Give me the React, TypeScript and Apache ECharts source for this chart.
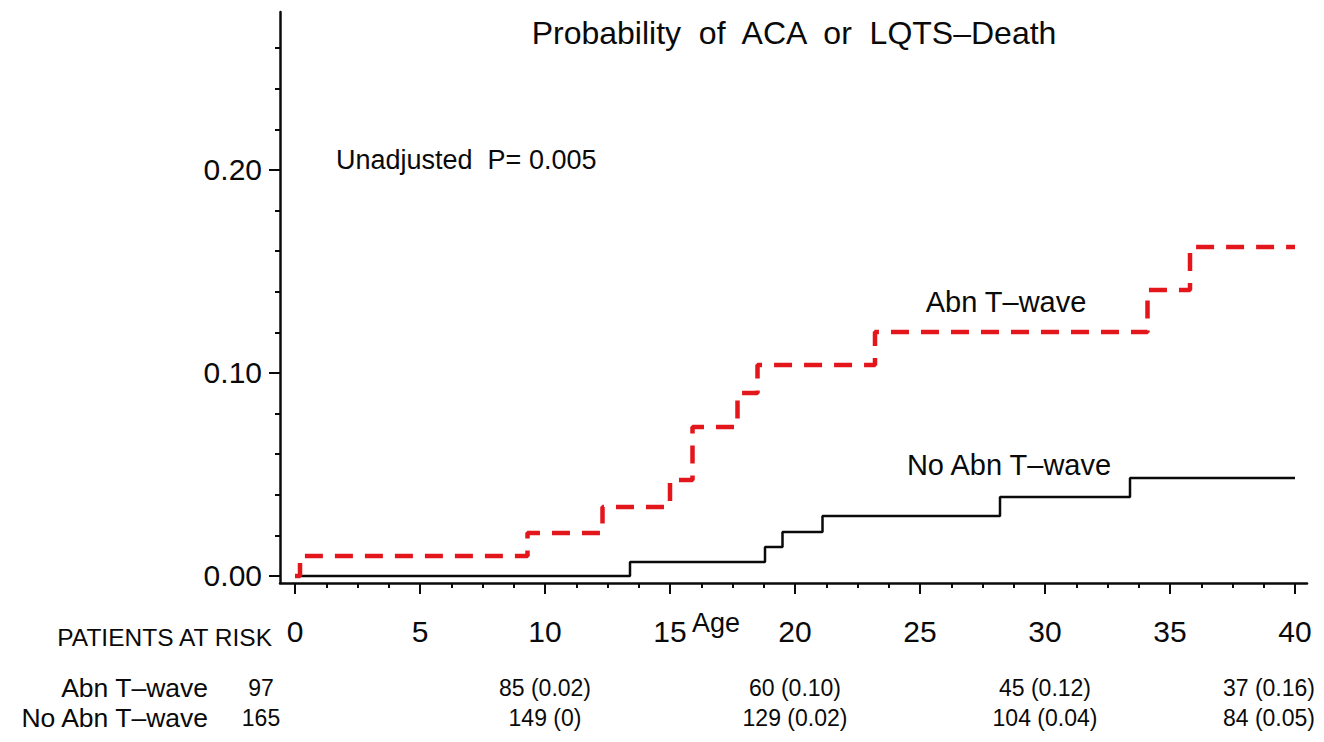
import React, { useEffect, useRef } from "react";
import * as echarts from "echarts";

// Kaplan-Meier style cumulative probability (step points: age, cumulative probability)
const abnAges = [0, 0.2, 9.3, 12.3, 15.0, 15.9, 17.7, 18.5, 23.2, 34.1, 35.8, 40];
const abnProb = [0, 0.0099, 0.0212, 0.034, 0.0473, 0.0734, 0.0901, 0.1039, 0.1202, 0.1409, 0.162, 0.162];
const noAbnAges = [0, 13.4, 18.8, 19.5, 21.1, 28.2, 33.4, 40];
const noAbnProb = [0, 0.0069, 0.0143, 0.0217, 0.0296, 0.0389, 0.0483, 0.0483];

const xTickLabels = [0, 5, 10, 15, 20, 25, 30, 35, 40];
const yTickLabels = [0, 0.1, 0.2];

const riskAges = [0, 10, 20, 30, 40];
const abnAtRisk = [97, 85, 60, 45, 37];
const abnCum = [null, 0.02, 0.1, 0.12, 0.16];
const noAbnAtRisk = [165, 149, 129, 104, 84];
const noAbnCum = [null, 0, 0.02, 0.04, 0.05];

const titleText = "Probability  of  ACA  or  LQTS–Death";
const pText = "Unadjusted  P= 0.005";
const abnLabel = "Abn T–wave";
const noAbnLabel = "No Abn T–wave";
const riskHeader = "PATIENTS AT RISK";
const xName = "Age";

const FONT = "'Liberation Sans', Arial, sans-serif";
const INK = "#0a0a0a";

function range(start: number, end: number, step: number) {
  const out: number[] = [];
  const n = Math.round((end - start) / step);
  for (let i = 0; i <= n; i++) out.push(+(start + i * step).toFixed(6));
  return out;
}

const xMinorTicks = range(0, 40, 1.25);
const yMinorTicks = range(0, 0.26, 0.02);

function fmtCum(v: number | null) {
  if (v === null) return "";
  return v === 0 ? " (0)" : " (" + v.toFixed(2) + ")";
}

export default function App() {
  const ref = useRef<HTMLDivElement>(null);
  useEffect(() => {
    if (!ref.current) return;
    const chart = echarts.init(ref.current, undefined, { renderer: "svg" });
    const xMin = -0.6;
    const xMax = 40.48;
    const yMin = -0.00345;
    const yMax = 0.2778;
    const lineStyle = { color: INK, width: 2.5 };
    const tickStyle = { color: INK, width: 2 };
    chart.setOption({
      animation: false,
      backgroundColor: "#ffffff",
      grid: { left: 280, right: 17, top: 12, bottom: 159, containLabel: false, outerBoundsMode: "none" },
      xAxis: [
        {
          type: "value", min: xMin, max: xMax, position: "bottom",
          axisLine: { show: true, onZero: false, lineStyle },
          axisTick: { show: true, customValues: xMinorTicks, length: 5, lineStyle: tickStyle },
          axisLabel: { customValues: xTickLabels, margin: 33, fontSize: 30, color: INK, fontFamily: FONT },
          splitLine: { show: false },
        },
        {
          type: "value", min: xMin, max: xMax, position: "bottom",
          axisLine: { show: false, onZero: false },
          axisTick: { show: true, customValues: xTickLabels, length: 11, lineStyle: tickStyle },
          axisLabel: { show: false },
          splitLine: { show: false },
        },
      ],
      yAxis: [
        {
          type: "value", min: yMin, max: yMax, position: "left",
          axisLine: { show: true, onZero: false, lineStyle },
          axisTick: { show: true, customValues: yMinorTicks, length: 5, lineStyle: tickStyle },
          axisLabel: {
            customValues: yTickLabels, margin: 18, fontSize: 30, color: INK, fontFamily: FONT,
            formatter: (v: number) => v.toFixed(2),
          },
          splitLine: { show: false },
        },
        {
          type: "value", min: yMin, max: yMax, position: "left",
          axisLine: { show: false, onZero: false },
          axisTick: { show: true, customValues: yTickLabels, length: 11, lineStyle: tickStyle },
          axisLabel: { show: false },
          splitLine: { show: false },
        },
      ],
      series: [
        {
          name: noAbnLabel, type: "line", step: "end", symbol: "none", xAxisIndex: 0, yAxisIndex: 0,
          data: noAbnAges.map((a, i) => [a, noAbnProb[i]]),
          lineStyle: { color: INK, width: 2.5 },
          z: 3,
        },
        {
          name: abnLabel, type: "line", step: "end", symbol: "none", xAxisIndex: 0, yAxisIndex: 0,
          data: abnAges.map((a, i) => [a, abnProb[i]]),
          lineStyle: { color: "#e3161c", width: 4.5, type: [18, 12] },
          z: 4,
        },
      ],
    });

    const px = (age: number) => chart.convertToPixel({ xAxisIndex: 0 }, age) as number;
    const txt = (x: number, y: number, text: string, size: number, align = "center") => ({
      type: "text", x, y,
      style: { text, fontSize: size, fontFamily: FONT, fill: INK, align, verticalAlign: "middle" },
    });
    const elements: any[] = [
      txt(794, 33, titleText, 32),
      txt(336, 160, pText, 27, "left"),
      txt(1006, 302, abnLabel, 29),
      txt(1009, 465, noAbnLabel, 29),
      txt(716, 623, xName, 27),
      txt(272, 637, riskHeader, 24.5, "right"),
      txt(208, 688, abnLabel, 26.5, "right"),
      txt(208, 718, noAbnLabel, 26.5, "right"),
    ];
    riskAges.forEach((age, i) => {
      let x = px(age);
      let align = "center";
      if (age === 0) x -= 34;
      if (i === riskAges.length - 1) { x += 20; align = "right"; }
      elements.push(txt(x, 688, String(abnAtRisk[i]) + fmtCum(abnCum[i]), 23, align));
      elements.push(txt(x, 718, String(noAbnAtRisk[i]) + fmtCum(noAbnCum[i]), 23, align));
    });
    chart.setOption({ graphic: { elements } });

    return () => chart.dispose();
  }, []);
  return (
    <div
      ref={ref}
      style={{ position: "fixed", left: 0, top: 0, width: 1324, height: 742, background: "#fff" }}
    />
  );
}
